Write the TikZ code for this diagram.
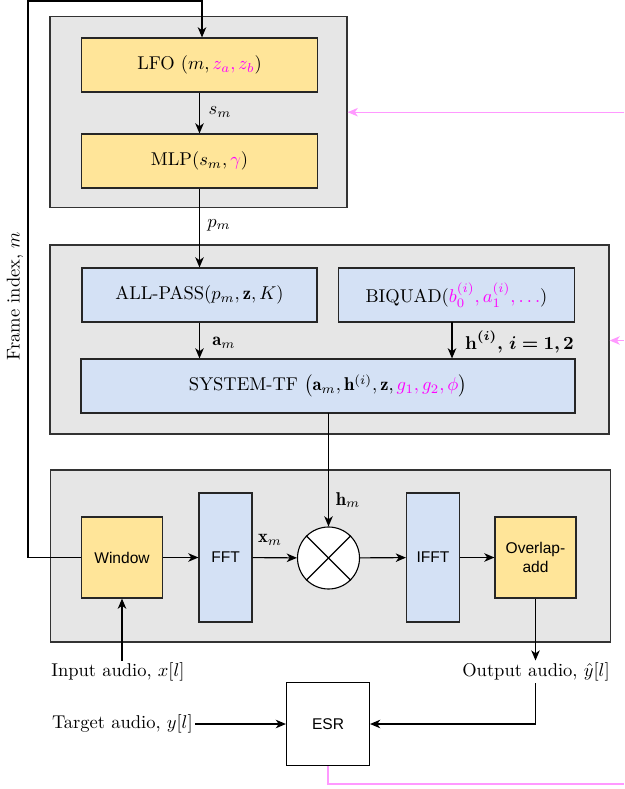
\documentclass[tikz,border=0pt]{standalone}
\usepackage{amsmath}
\usepackage{bm}
\usepackage{fontspec}
\usetikzlibrary{arrows.meta,calc}
\newfontfamily\arialf{Liberation Sans}
\definecolor{boxyel}{HTML}{FFE599}
\definecolor{boxblue}{HTML}{D4E1F5}
\definecolor{contgray}{HTML}{E6E6E6}
\definecolor{mag}{HTML}{FF00FF}
\definecolor{pinkln}{HTML}{FF99FF}
\newcommand\mg[1]{\textcolor{mag}{#1}}
\newcommand\sansf{\arialf\fontsize{8.4}{10}\selectfont}
\begin{document}
\begin{tikzpicture}[x=0.54pt,y=-0.54pt,
  font=\fontsize{10}{12}\selectfont,
  sz/.style 2 args={minimum width=#1*0.54pt, minimum height=#2*0.54pt},
  cont/.style={draw=black!80, fill=contgray, line width=0.7pt, inner sep=0pt},
  ybox/.style={draw=black!85, fill=boxyel, line width=0.6pt, inner sep=0pt},
  bbox/.style={draw=black!85, fill=boxblue, line width=0.6pt, inner sep=0pt},
  lbl/.style={inner sep=1pt},
  ln/.style={line width=0.6pt},
  arr/.style={line width=0.6pt, -{Stealth[length=5.5pt,width=4.6pt,inset=1.6pt]}},
  pinkarr/.style={draw=pinkln, line width=0.6pt, -{Stealth[length=5.5pt,width=4.6pt,inset=1.6pt]}},
  pinkln/.style={draw=pinkln, line width=0.6pt},
]
\useasboundingbox (0,0) rectangle (624,789);

% containers
\node[cont, sz={297}{191}] (c1) at (198.5,112.2) {};
\node[cont, sz={559}{189}] (c2) at (329.5,339.5) {};
\node[cont, sz={560}{172}] (c3) at (330.5,556) {};

% top blocks
\node[ybox, sz={236}{54}] (lfo) at (199.5,65) {LFO $(m, \mg{z_a, z_b})$};
\node[ybox, sz={236}{54}] (mlp) at (199.5,161) {MLP$(s_m, \mg{\gamma})$};

% middle blocks
\node[bbox, sz={235}{54}] (ap) at (199.5,295) {ALL-PASS$(p_m, \mathbf{z}, K)$};
\node[bbox, sz={236}{54}] (bq) at (456.5,295) {BIQUAD$(\mg{b_0^{(i)}, a_1^{(i)}, \ldots})$};
\node[bbox, sz={494}{54}] (tf) at (328,386) {SYSTEM-TF $\left(\mathbf{a}_m, \mathbf{h}^{(i)}, \mathbf{z}, \mg{g_1, g_2, \phi}\right)$};

% bottom blocks
\node[ybox, sz={81}{81}, font=\sansf] (win) at (122,557.5) {Window};
\node[bbox, sz={53}{129}, font=\sansf] (fft) at (225.5,557.5) {FFT};
\node[circle, draw=black, fill=white, line width=0.6pt, minimum size=62*0.54pt, inner sep=0pt] (mul) at (328.5,558) {};
\draw[ln] (mul.45) -- (mul.225);
\draw[ln] (mul.135) -- (mul.315);
\node[bbox, sz={53}{129}, font=\sansf] (ifft) at (433,557.5) {IFFT};
\node[ybox, sz={81}{81}, font=\sansf, align=center] (ola) at (535.5,557.5) {Overlap-\\add};

% ESR
\node[draw=black, fill=white, line width=0.6pt, inner sep=0pt, sz={83}{83}, font=\sansf] (esr) at (328,724) {ESR};

% text labels
\node[lbl] (inl) at (118,672) {Input audio, $x[l]$};
\node[lbl] (outl) at (536,672) {Output audio, $\hat{y}[l]$};
\node[lbl, anchor=east] (tgt) at (195,724) {Target audio, $y[l]$};
\node[lbl, rotate=90] (fi) at (15,296) {Frame index, $m$};

% edge labels
\node[lbl] (lsm) at (220,112) {$s_m$};
\node[lbl] (lpm) at (219,225) {$p_m$};
\node[lbl] (lam) at (224,343) {$\mathbf{a}_m$};
\node[lbl, anchor=west] (lh) at (463,342) {$\bm{\mathbf{h}^{(i)},\, i=1,2}$};
\node[lbl] (lhm) at (348,500) {$\mathbf{h}_m$};
\node[lbl] (lxm) at (270,540) {$\mathbf{x}_m$};

% coordinates
\coordinate (fb1) at (28,557.5);
\coordinate (fb2) at (28,1);
\coordinate (fb3) at (202,1);
\coordinate (hq) at (452,322);
\coordinate (pk1) at (328,784);
\coordinate (pk2) at (624,784);
\coordinate (pe1) at (624,112.2);
\coordinate (pe2) at (624,340.5);

% connectors
\draw[arr] (win.west) -- (fb1) -- (fb2) -- (fb3) -- (fb3 |- lfo.north);
\draw[arr] (lfo) -- (mlp);
\draw[arr] (mlp.south) -- (ap.north);
\draw[arr] (ap.south) -- (ap.south |- tf.north);
\draw[arr] (hq) -- (hq |- tf.north);
\draw[arr] (tf.south) -- (tf.south -| mul.north) -- (mul.north);
\draw[arr] (win) -- (fft);
\draw[arr] (fft) -- (mul);
\draw[arr] (mul) -- (ifft);
\draw[arr] (ifft) -- (ola);
\draw[arr] (win.south |- inl.north) -- (win.south);
\draw[arr] (ola.south) -- (ola.south |- outl.north);
\draw[arr] (ola.south |- outl.south) |- (esr.east);
\draw[arr] (tgt.east) -- (esr.west);
\draw[pinkln] (esr.south) -- (pk1) -- (pk2);
\draw[pinkarr] (pe1) -- (c1.east |- pe1);
\draw[pinkarr] (pe2) -- (c2.east |- pe2);
\end{tikzpicture}
\end{document}
